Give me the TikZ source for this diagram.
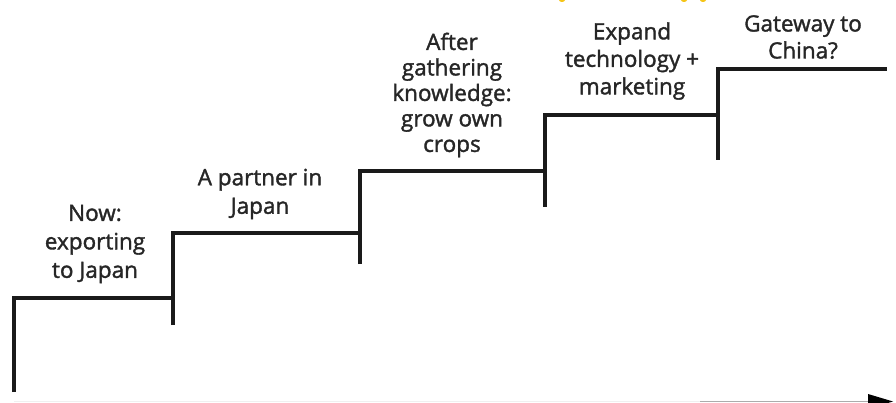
\documentclass[tikz,border=0pt]{standalone}
\usepackage{fontspec}
\setmainfont[FakeBold=1.6]{Open Sans}
\definecolor{txt}{HTML}{262626}
\definecolor{stepc}{HTML}{1A1A1A}
\definecolor{ylw}{HTML}{F5C518}
\begin{document}
\begin{tikzpicture}[x=1pt,y=-1pt,
  stepline/.style={draw=stepc,line width=3.3pt,line join=miter},
  label/.style={text=txt,align=center,font=\fontsize{22.5}{28.5}\selectfont,inner sep=0pt},
  frag/.style={fill=ylw,draw=none}]
\useasboundingbox (0,0) rectangle (896,403);
% step corners
\coordinate (a0) at (14,392); \coordinate (a1) at (14,298); \coordinate (a2) at (173,298);
\coordinate (b0) at (173,325); \coordinate (b1) at (173,233); \coordinate (b2) at (360,233);
\coordinate (c0) at (360,264); \coordinate (c1) at (360,171); \coordinate (c2) at (545,171);
\coordinate (d0) at (545,207); \coordinate (d1) at (545,115); \coordinate (d2) at (718,115);
\coordinate (e0) at (718,160); \coordinate (e1) at (718,69);  \coordinate (e2) at (887,69);
\draw[stepline] (a0) -- (a1) -- (a2);
\draw[stepline] (b0) -- (b1) -- (b2);
\draw[stepline] (c0) -- (c1) -- (c2);
\draw[stepline] (d0) -- (d1) -- (d2);
\draw[stepline] (e0) -- (e1) -- (e2);
% labels
\node[label] (t1) at (95,244) {Now:\\exporting\\to Japan};
\node[label] (t2) at (260,194) {A partner in\\Japan};
\node[label,font=\fontsize{22.5}{25.5}\selectfont] (t3) at (452,95) {After\\gathering\\knowledge:\\grow own\\crops};
\node[label,font=\fontsize{22.5}{27.5}\selectfont] (t4) at (632,61) {Expand\\technology +\\marketing};
\node[label,font=\fontsize{22.5}{27}\selectfont] (t5) at (803,37) {Gateway to\\China?};
% time axis
\coordinate (x0) at (14,401.5); \coordinate (xm) at (700,401.5); \coordinate (x1) at (870,401.5);
\draw[gray!12,line width=1pt] (x0) -- (xm);
\draw[gray!65,line width=1.2pt] (xm) -- (x1);
\fill[black] (868,394) -- (893,401.5) -- (868,409) -- cycle;
% cut-off title fragments
\fill[frag] (562,0) ellipse (3 and 2);
\fill[frag] (684,0) ellipse (3 and 2);
\fill[frag] (703,0) ellipse (3 and 2);
\end{tikzpicture}
\end{document}
